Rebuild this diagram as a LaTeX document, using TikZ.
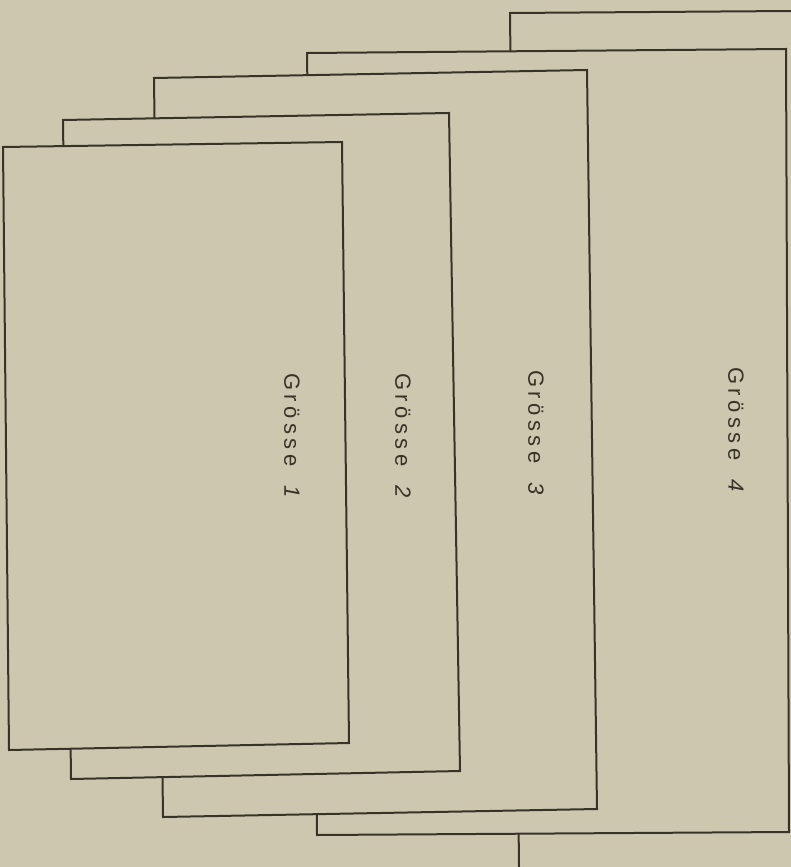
\documentclass[tikz,border=0pt]{standalone}
\usepackage{fontspec}
\setmainfont{Liberation Sans}
\definecolor{paper}{RGB}{205,199,176}
\definecolor{ink}{RGB}{55,51,40}
\newcommand{\groesse}[1]{G\kern4.5pt r\kern4.5pt ö\kern4.5pt s\kern4.5pt s\kern4.5pt e\hspace{19pt}\textit{#1}}
\begin{document}
\begin{tikzpicture}[x=1pt,y=-1pt,
  sheet/.style={draw=ink,fill=paper,line width=2pt,line join=miter},
  label/.style={rotate=-90,anchor=west,inner sep=0pt,text=ink,font=\fontsize{22}{22}\selectfont}]
\useasboundingbox (0,0) rectangle (791,867);
\fill[paper] (0,0) rectangle (791,867);
% sheet 5 (back, extends beyond the edge)
\fill[paper] (510,13) -- (791,11) -- (791,867) -- (519,867) -- cycle;
\draw[ink,line width=2pt] (519,867) -- (510,13) -- (791,11);
% sheet 4
\draw[sheet] (307,53) -- (786,49) -- (789,832) -- (317,835) -- cycle;
% sheet 3
\draw[sheet] (154,78) -- (587,70) -- (597,809) -- (163,817) -- cycle;
% sheet 2
\draw[sheet] (63,120) -- (449,113) -- (460,771) -- (71,779) -- cycle;
% sheet 1
\draw[sheet] (3,147) -- (342,142) -- (349,743) -- (9,750) -- cycle;
% labels
\node[label] (g1) at (292,373) {\groesse{1}};
\node[label] (g2) at (403,373) {\groesse{2}};
\node[label] (g3) at (536,370) {\groesse{3}};
\node[label] (g4) at (736,367) {\groesse{4}};
\end{tikzpicture}
\end{document}
